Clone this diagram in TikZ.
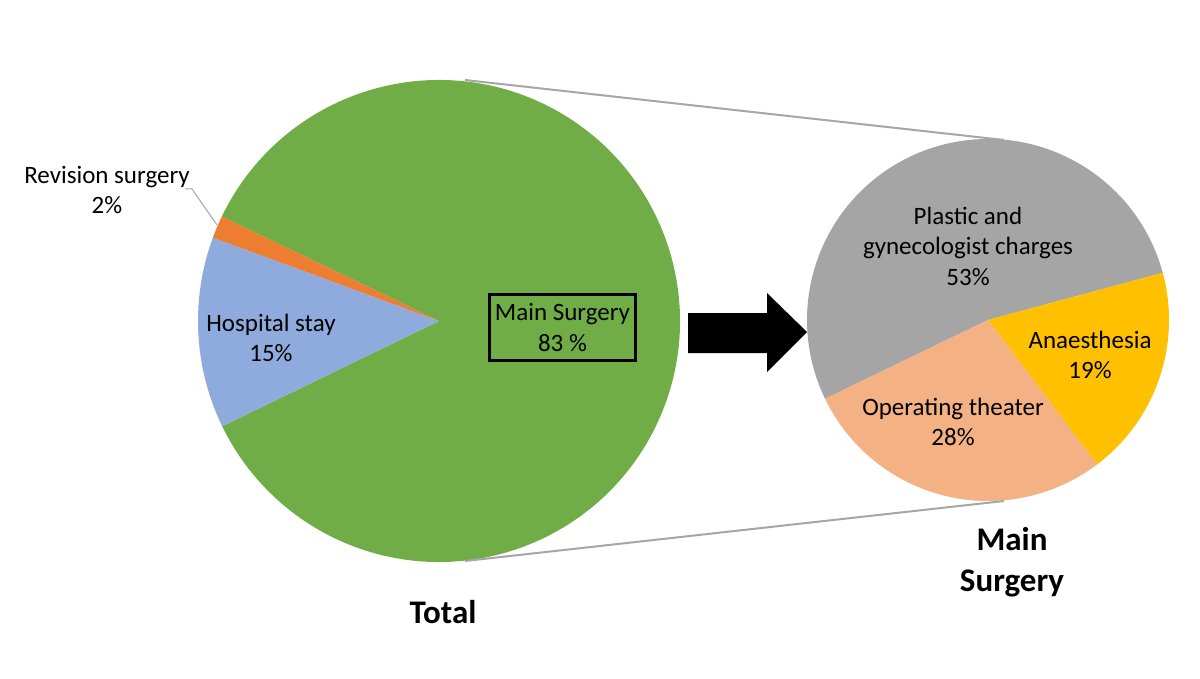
\documentclass[tikz,border=0pt]{standalone}
\usepackage{fontspec}
\setmainfont{Carlito}
\definecolor{cgreen}{HTML}{70AD47}
\definecolor{corange}{HTML}{ED7D31}
\definecolor{cblue}{HTML}{8FAADC}
\definecolor{cgray}{HTML}{A5A5A5}
\definecolor{cyellow}{HTML}{FFC000}
\definecolor{csalmon}{HTML}{F4B183}
\definecolor{cline}{HTML}{A6A6A6}
\tikzset{
  lbl/.style={align=center,font=\fontsize{25}{30.5}\selectfont,inner sep=0pt},
  ttl/.style={align=center,font=\fontsize{33}{41}\selectfont\bfseries,inner sep=0pt},
  zoomline/.style={draw=cline,line width=2pt},
  leader/.style={draw=cline,line width=1pt},
}
\begin{document}
\begin{tikzpicture}[x=1pt,y=-1pt]
\useasboundingbox (0,0) rectangle (1200,679);
% big pie, center (439,321), r=241 ; y axis down so angles negated
\coordinate (bc) at (439,321);
\def\R{241}
\fill[cgreen] (bc) -- ++(-154.3:\R) arc[start angle=-154.3,end angle=154.1,radius=\R] -- cycle;
\fill[corange] (bc) -- ++(-159.8:\R) arc[start angle=-159.8,end angle=-154.3,radius=\R] -- cycle;
\fill[cblue] (bc) -- ++(-205.9:\R) arc[start angle=-205.9,end angle=-159.8,radius=\R] -- cycle;
% small pie, center (988,320), r=181
\coordinate (sc) at (988,320);
\def\r{181}
\fill[cgray] (sc) -- ++(-15.1:\r) arc[start angle=-15.1,end angle=-205.8,radius=\r] -- cycle;
\fill[cyellow] (sc) -- ++(52.9:\r) arc[start angle=52.9,end angle=-15.1,radius=\r] -- cycle;
\fill[csalmon] (sc) -- ++(154.2:\r) arc[start angle=154.2,end angle=52.9,radius=\r] -- cycle;
% zoom lines
\coordinate (bt) at (465,80);
\coordinate (bb) at (465,561);
\coordinate (st) at (1004,140);
\coordinate (sb) at (1004,501);
\draw[zoomline] (bt) -- (st);
\draw[zoomline] (bb) -- (sb);
% arrow
\fill[black] (688,313) -- (767,313) -- (767,293) -- (807,332) -- (767,372) -- (767,353) -- (688,353) -- cycle;
% labels
\node[lbl] (rev) at (107,190) {Revision surgery\\2\%};
\coordinate (l1) at (185,189);
\coordinate (l2) at (192,189);
\coordinate (l3) at (217,225);
\draw[leader] (l1) -- (l2) -- (l3);
\node[lbl] (hosp) at (271,338) {Hospital stay\\15\%};
\node[lbl,draw=black,line width=3pt,minimum width=146pt,minimum height=66pt] (main) at (562.5,327.5) {Main Surgery\\83 \%};
\node[lbl] (plas) at (968,246) {Plastic and\\gynecologist charges\\53\%};
\node[lbl] (anae) at (1090,355) {Anaesthesia\\19\%};
\node[lbl] (oper) at (953,422) {Operating theater\\28\%};
\node[ttl] (total) at (443,612) {Total};
\node[ttl] (ms) at (1012,562) {Main\\Surgery};
\end{tikzpicture}
\end{document}
